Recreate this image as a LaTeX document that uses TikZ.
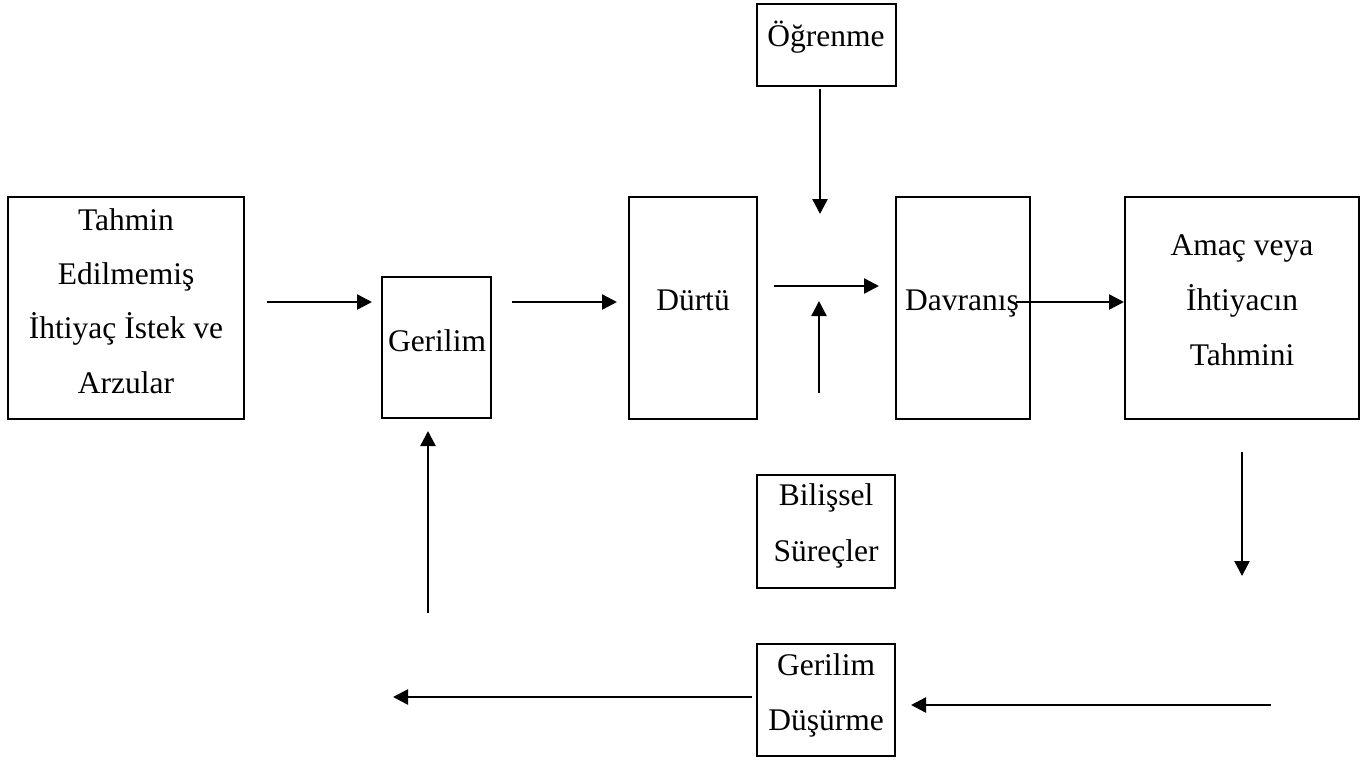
\documentclass[tikz,border=0pt]{standalone}
\usepackage{fontspec}
\setmainfont{Liberation Serif}
\usetikzlibrary{arrows.meta}
\begin{document}
\begin{tikzpicture}[x=1pt,y=-1pt,
  box/.style={draw, line width=2.6pt, inner sep=0pt},
  lbl/.style={anchor=base, inner sep=0pt, font=\fontsize{31.5}{54}\selectfont},
  arr/.style={line width=2.4pt, -{Triangle[length=15pt,width=15pt]}}]
\useasboundingbox (0,0) rectangle (1367,760);

% boxes
\node[box, minimum width=236pt, minimum height=222pt] (tahmin) at (126,308) {};
\node[box, minimum width=109pt, minimum height=141pt] (gerilim) at (436.5,347.5) {};
\node[box, minimum width=128pt, minimum height=222pt] (durtu) at (693,308) {};
\node[box, minimum width=134pt, minimum height=222pt] (davranis) at (963,308) {};
\node[box, minimum width=234pt, minimum height=222pt] (amac) at (1242,308) {};
\node[box, minimum width=139pt, minimum height=82pt] (ogrenme) at (826.5,45) {};
\node[box, minimum width=138pt, minimum height=113pt] (bilissel) at (826,531.5) {};
\node[box, minimum width=138pt, minimum height=112pt] (dusurme) at (826,700) {};

% labels
\node[lbl] (t1) at (126,230) {Tahmin};
\node[lbl] (t2) at (126,284) {Edilmemiş};
\node[lbl] (t3) at (126,338) {İhtiyaç İstek ve};
\node[lbl] (t4) at (126,393) {Arzular};
\node[lbl] (g1) at (437,351) {Gerilim};
\node[lbl] (d1) at (693,310) {Dürtü};
\node[lbl] (v1) at (962,310) {Davranış};
\node[lbl] (m1) at (1242,255) {Amaç veya};
\node[lbl] (m2) at (1242,310) {İhtiyacın};
\node[lbl] (m3) at (1242,365) {Tahmini};
\node[lbl] (o1) at (826,47) {Öğrenme};
\node[lbl] (b1) at (826,505) {Bilişsel};
\node[lbl] (b2) at (826,561) {Süreçler};
\node[lbl] (s1) at (826,675) {Gerilim};
\node[lbl] (s2) at (826,730) {Düşürme};

% arrow end points
\coordinate (a1s) at (267,302);  \coordinate (a1e) at (372,302);
\coordinate (a2s) at (512,302);  \coordinate (a2e) at (617,302);
\coordinate (a3s) at (774,286);  \coordinate (a3e) at (879,286);
\coordinate (a4s) at (820,89);   \coordinate (a4e) at (820,214);
\coordinate (a5s) at (819,393);  \coordinate (a5e) at (819,301);
\coordinate (a6s) at (1016,302); \coordinate (a6e) at (1124,302);
\coordinate (a7s) at (1242,452); \coordinate (a7e) at (1242,576);
\coordinate (a8s) at (1271,705); \coordinate (a8e) at (911,705);
\coordinate (a9s) at (752,697);  \coordinate (a9e) at (393,697);
\coordinate (a10s) at (428,613); \coordinate (a10e) at (428,431);

\draw[arr] (a1s) -- (a1e);
\draw[arr] (a2s) -- (a2e);
\draw[arr] (a3s) -- (a3e);
\draw[arr] (a4s) -- (a4e);
\draw[arr] (a5s) -- (a5e);
\draw[arr] (a6s) -- (a6e);
\draw[arr] (a7s) -- (a7e);
\draw[arr] (a8s) -- (a8e);
\draw[arr] (a9s) -- (a9e);
\draw[arr] (a10s) -- (a10e);
\end{tikzpicture}
\end{document}
